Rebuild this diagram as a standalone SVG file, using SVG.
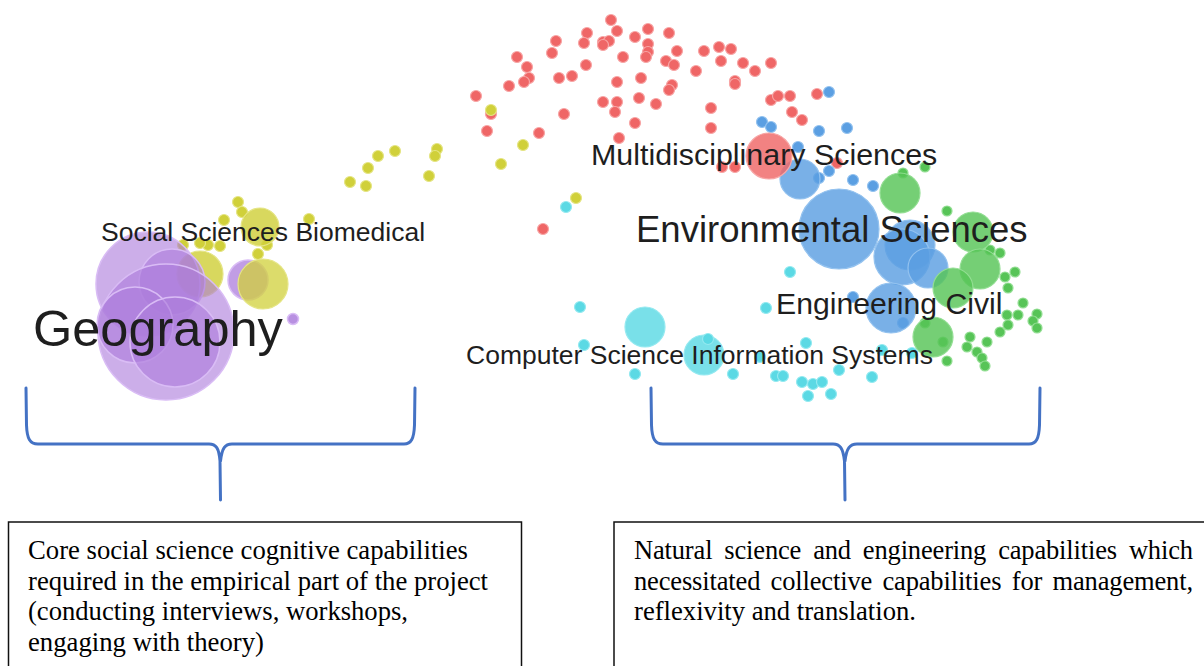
<svg xmlns="http://www.w3.org/2000/svg" width="1204" height="666" viewBox="0 0 1204 666">
<style>
.r{fill:#ef6666;stroke:#f7a6a6;stroke-width:1.2}
.y{fill:#d0d03a;stroke:#e5e585;stroke-width:1.2}
.b{fill:#5b9fe2;stroke:#93c2ef;stroke-width:1.2}
.g{fill:#57c457;stroke:#93de93;stroke-width:1.2}
.c{fill:#5bd9e4;stroke:#94e9f0;stroke-width:1.2}
.p{fill:#ac7cdc;stroke:#d9bcf5;stroke-width:1.5;fill-opacity:.62}
.big{fill-opacity:.82}
.lbl{font-family:"Liberation Sans",Arial,sans-serif;fill:#1e1e1e}
.brace{fill:none;stroke:#4472c4;stroke-width:3;stroke-linecap:round;stroke-linejoin:round}
.box{fill:#fff;stroke:#111;stroke-width:1.5}
.bt{font-family:"Liberation Serif","Times New Roman",serif;font-size:26.5px;fill:#000}
</style>
<rect width="1204" height="666" fill="#fff"/>
<g id="cluster-red">
<circle class="r" cx="611" cy="20" r="5.5"/><circle class="r" cx="587" cy="33" r="5.5"/><circle class="r" cx="617" cy="31" r="5.5"/><circle class="r" cx="648" cy="29" r="5.5"/><circle class="r" cx="669" cy="33" r="5.5"/><circle class="r" cx="635" cy="37" r="5.5"/><circle class="r" cx="556" cy="41" r="5.5"/><circle class="r" cx="584" cy="43" r="5.5"/><circle class="r" cx="603" cy="42" r="5.5"/><circle class="r" cx="609" cy="41" r="5.5"/><circle class="r" cx="603" cy="45" r="5.5"/><circle class="r" cx="648" cy="44" r="5.5"/><circle class="r" cx="648" cy="52" r="5.5"/><circle class="r" cx="646" cy="57" r="5.5"/><circle class="r" cx="552" cy="53" r="5.5"/><circle class="r" cx="517" cy="57" r="5.5"/><circle class="r" cx="623" cy="57" r="5.5"/><circle class="r" cx="677" cy="51" r="5.5"/><circle class="r" cx="704" cy="51" r="5.5"/><circle class="r" cx="719" cy="47" r="5.5"/><circle class="r" cx="731" cy="49" r="5.5"/><circle class="r" cx="527" cy="67" r="5.5"/><circle class="r" cx="586" cy="65" r="5.5"/><circle class="r" cx="666" cy="61" r="5.5"/><circle class="r" cx="674" cy="65" r="5.5"/><circle class="r" cx="721" cy="61" r="5.5"/><circle class="r" cx="743" cy="63" r="5.5"/><circle class="r" cx="771" cy="63" r="5.5"/><circle class="r" cx="755" cy="71" r="5.5"/><circle class="r" cx="696" cy="71" r="5.5"/><circle class="r" cx="509" cy="86" r="5.5"/><circle class="r" cx="529" cy="78" r="5.5"/><circle class="r" cx="524" cy="82" r="5.5"/><circle class="r" cx="559" cy="78" r="5.5"/><circle class="r" cx="572" cy="76" r="5.5"/><circle class="r" cx="617" cy="82" r="5.5"/><circle class="r" cx="641" cy="78" r="5.5"/><circle class="r" cx="672" cy="85" r="5.5"/><circle class="r" cx="669" cy="90" r="5.5"/><circle class="r" cx="735" cy="81" r="5.5"/><circle class="r" cx="735" cy="84" r="5.5"/><circle class="r" cx="476" cy="96" r="5.5"/><circle class="r" cx="603" cy="102" r="5.5"/><circle class="r" cx="617" cy="102" r="5.5"/><circle class="r" cx="639" cy="98" r="5.5"/><circle class="r" cx="656" cy="104" r="5.5"/><circle class="r" cx="615" cy="112" r="5.5"/><circle class="r" cx="491" cy="114" r="5.5"/><circle class="r" cx="564" cy="114" r="5.5"/><circle class="r" cx="711" cy="108" r="5.5"/><circle class="r" cx="771" cy="100" r="5.5"/><circle class="r" cx="778" cy="96" r="5.5"/><circle class="r" cx="790" cy="96" r="5.5"/><circle class="r" cx="817" cy="94" r="5.5"/><circle class="r" cx="792" cy="112" r="5.5"/><circle class="r" cx="802" cy="120" r="5.5"/><circle class="r" cx="487" cy="131" r="5.5"/><circle class="r" cx="539" cy="133" r="5.5"/><circle class="r" cx="635" cy="123" r="5.5"/><circle class="r" cx="711" cy="128" r="5.5"/><circle class="r" cx="619" cy="138" r="5.5"/><circle class="r" cx="543" cy="229" r="5.5"/><circle class="r" cx="722" cy="167" r="5.5"/><circle class="r" cx="735" cy="167" r="5.5"/><circle class="r" cx="837" cy="163" r="5.5"/>
</g>
<g id="cluster-yellow">
<circle class="y" cx="491" cy="110" r="5.5"/><circle class="y" cx="523" cy="145" r="5.5"/><circle class="y" cx="501" cy="164" r="5.5"/><circle class="y" cx="576" cy="198" r="5.5"/><circle class="y" cx="350" cy="182" r="5.5"/><circle class="y" cx="366" cy="186" r="5.5"/><circle class="y" cx="368" cy="168" r="5.5"/><circle class="y" cx="378" cy="156" r="5.5"/><circle class="y" cx="395" cy="151" r="5.5"/><circle class="y" cx="437" cy="149" r="5.5"/><circle class="y" cx="435" cy="156" r="5.5"/><circle class="y" cx="429" cy="176" r="5.5"/><circle class="y" cx="238" cy="202" r="5.5"/><circle class="y" cx="242" cy="212" r="5.5"/><circle class="y" cx="224" cy="220" r="5.5"/><circle class="y" cx="309" cy="219" r="5.5"/><circle class="y" cx="267" cy="245" r="5.5"/><circle class="y" cx="258" cy="254" r="5.5"/><circle class="y" cx="220" cy="246" r="5.5"/><circle class="y" cx="208" cy="245" r="5.5"/><circle class="y" cx="200" cy="243" r="5.5"/><circle class="y" cx="183" cy="245" r="5.5"/>
<circle class="y big" cx="260" cy="227" r="19"/>
<circle class="y big" cx="200" cy="274" r="23"/>
</g>
<g id="cluster-purple">
<circle class="p" cx="148" cy="284" r="52"/>
<circle class="p" cx="172" cy="282" r="33"/>
<circle class="p" cx="166" cy="332" r="68"/>
<circle class="p" cx="135" cy="325" r="38"/>
<circle class="p" cx="175" cy="342" r="45"/>
<circle class="p" cx="248" cy="280" r="20" style="fill-opacity:.75"/>
<circle class="p" cx="293" cy="319" r="5.5" style="fill-opacity:.85"/>
</g>
<g id="cluster-yellow-front">
<circle class="y" cx="263" cy="284" r="25" style="fill-opacity:.75"/>
</g>
<g id="cluster-cyan">
<circle class="c" cx="580" cy="307" r="5.5"/><circle class="c" cx="584" cy="345" r="5.5"/><circle class="c" cx="635" cy="374" r="5.5"/><circle class="c" cx="733" cy="374" r="5.5"/><circle class="c" cx="766" cy="308" r="5.5"/><circle class="c" cx="806" cy="343" r="5.5"/><circle class="c" cx="776" cy="376" r="5.5"/><circle class="c" cx="783" cy="376" r="5.5"/><circle class="c" cx="802" cy="382" r="5.5"/><circle class="c" cx="813" cy="384" r="5.5"/><circle class="c" cx="822" cy="382" r="5.5"/><circle class="c" cx="808" cy="396" r="5.5"/><circle class="c" cx="831" cy="394" r="5.5"/><circle class="c" cx="839" cy="370" r="5.5"/><circle class="c" cx="872" cy="377" r="5.5"/><circle class="c" cx="760" cy="357" r="5.5"/><circle class="c" cx="790" cy="272" r="5.5"/><circle class="c" cx="566" cy="207" r="5.5"/><circle class="c" cx="882" cy="350" r="5.5"/><circle class="c" cx="912" cy="353" r="5.5"/>
<circle class="c big" cx="645" cy="327" r="20"/>
<circle class="c big" cx="704" cy="355" r="20"/>
<circle class="c" cx="708" cy="339" r="5.5"/>
</g>
<g id="cluster-blue">
<circle class="b" cx="762" cy="122" r="5.5"/><circle class="b" cx="771" cy="127" r="5.5"/><circle class="b" cx="819" cy="131" r="5.5"/><circle class="b" cx="847" cy="128" r="5.5"/><circle class="b" cx="829" cy="92" r="5.5"/><circle class="b" cx="798" cy="147" r="5.5"/><circle class="b" cx="819" cy="178" r="5.5"/><circle class="b" cx="829" cy="171" r="5.5"/><circle class="b" cx="853" cy="180" r="5.5"/><circle class="b" cx="873" cy="186" r="5.5"/><circle class="b" cx="853" cy="297" r="5.5"/><circle class="b" cx="903" cy="323" r="5.5"/>
<circle class="b big" cx="800" cy="179" r="20"/>
<circle class="b big" cx="839" cy="229" r="40"/>
<circle class="b big" cx="910" cy="245" r="25"/>
<circle class="b big" cx="902" cy="257" r="28"/>
<circle class="b big" cx="928" cy="268" r="20"/>
<circle class="b big" cx="891" cy="308" r="25"/>
</g>
<g id="cluster-red-big">
<circle class="r big" cx="769" cy="156" r="23"/>
</g>
<g id="cluster-green">
<circle class="g" cx="903" cy="173" r="5"/><circle class="g" cx="925" cy="167" r="5"/><circle class="g" cx="947" cy="211" r="5"/><circle class="g" cx="990" cy="250" r="5"/><circle class="g" cx="1000" cy="253" r="5"/><circle class="g" cx="1015" cy="272" r="5"/><circle class="g" cx="1005" cy="277" r="5"/><circle class="g" cx="1008" cy="288" r="5"/><circle class="g" cx="1023" cy="303" r="5"/><circle class="g" cx="1037" cy="314" r="5"/><circle class="g" cx="1033" cy="321" r="5"/><circle class="g" cx="1037" cy="328" r="5"/><circle class="g" cx="1018" cy="315" r="5"/><circle class="g" cx="1007" cy="315" r="5"/><circle class="g" cx="1008" cy="325" r="5"/><circle class="g" cx="1000" cy="332" r="5"/><circle class="g" cx="987" cy="342" r="5"/><circle class="g" cx="970" cy="337" r="5"/><circle class="g" cx="967" cy="347" r="5"/><circle class="g" cx="977" cy="352" r="5"/><circle class="g" cx="982" cy="358" r="5"/><circle class="g" cx="985" cy="366" r="5"/><circle class="g" cx="947" cy="361" r="5"/><circle class="g" cx="943" cy="342" r="5"/><circle class="g" cx="925" cy="323" r="5"/>
<circle class="g big" cx="900" cy="193" r="20"/>
<circle class="g big" cx="973" cy="232" r="20"/>
<circle class="g big" cx="980" cy="269" r="20"/>
<circle class="g big" cx="953" cy="288" r="20"/>
<circle class="g big" cx="933" cy="337" r="20"/>
</g>
<g id="labels">
<text class="lbl" x="101" y="241" font-size="26.5">Social Sciences Biomedical</text>
<text class="lbl" x="33" y="346" font-size="50.5">Geography</text>
<text class="lbl" x="591" y="164.5" font-size="30.4">Multidisciplinary Sciences</text>
<text class="lbl" x="636" y="242" font-size="36.5">Environmental Sciences</text>
<text class="lbl" x="776" y="314" font-size="30.2">Engineering Civil</text>
<text class="lbl" x="466" y="364" font-size="26.5">Computer Science Information Systems</text>
</g>
<g id="connectors">
<path class="brace" d="M26,388 L26.5,425 C27,439 30,444 38,444 L209,444 C216,444 219,448 220,461 L220.5,500 M220.5,461 C222,448 225,444 232,444 L404,444 C411,444 414,439 414.5,425 L415,388"/>
<path class="brace" d="M651,388 L651.5,425 C652,439 655,444 663,444 L833,444 C840,444 843,448 844.5,461 L845,500 M845,461 C846.5,448 850,444 857,444 L1029,444 C1036,444 1039,439 1039.5,425 L1040,388"/>
</g>
<g id="box-left">
<rect class="box" x="8.5" y="522" width="513" height="160"/>
<text class="bt" x="28" y="559" textLength="440" lengthAdjust="spacingAndGlyphs">Core social science cognitive capabilities</text>
<text class="bt" x="28" y="589.5" textLength="460" lengthAdjust="spacingAndGlyphs">required in the empirical part of the project</text>
<text class="bt" x="28" y="620" textLength="380" lengthAdjust="spacingAndGlyphs">(conducting interviews, workshops,</text>
<text class="bt" x="28" y="650.5" textLength="236" lengthAdjust="spacingAndGlyphs">engaging with theory)</text>
</g>
<g id="box-right">
<rect class="box" x="614" y="522" width="700" height="160"/>
<text class="bt" x="634" y="559" word-spacing="5.5" textLength="559" lengthAdjust="spacing">Natural science and engineering capabilities which</text>
<text class="bt" x="634" y="589.5" word-spacing="3.9" textLength="559" lengthAdjust="spacing">necessitated collective capabilities for management,</text>
<text class="bt" x="634" y="620" textLength="282" lengthAdjust="spacingAndGlyphs">reflexivity and translation.</text>
</g>
</svg>
